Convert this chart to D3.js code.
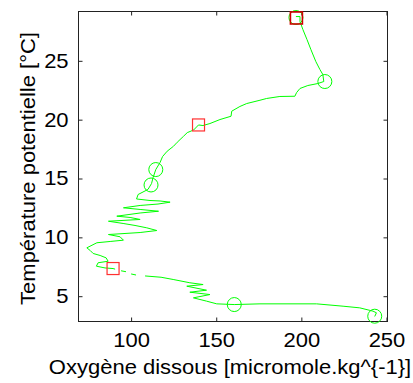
<!DOCTYPE html>
<html>
<head>
<meta charset="utf-8">
<script src="https://cdn.jsdelivr.net/npm/d3@7/dist/d3.min.js"></script>
<style>
  html, body { margin: 0; padding: 0; background: #fff; }
  svg { display: block; }
  text { font-family: "Liberation Sans", Arial, Helvetica, sans-serif; fill: #000; }
</style>
</head>
<body>
<div id="chart"></div>
<script>
// ---- data (oxygen in micromole/kg, potential temperature in °C); null = gap in the record ----
const oxygen = [196.8, 199.2, 199.2, 200.9, 203.3, 205.6, 208.5, 210.9, 212.6, 213.2,
  209.7, 203.8, 199.2, 197.2, 196.2, 187.4, 179.6, 175.7, 167.9, 163.9,
  159.1, 158.7, 152.2, 146.3, 142.2, 139.6, 136.7, 133.0, 130.8, 127.1,
  124.9, 121.2, 118.5, 117.0, 114.5, 112.9, 112.0, 109.9, 106.4, 104.1,
  103.2, 111.1, 117.0, 122.9, 115.8, 105.3, 95.5, 105.3, 116.1, 105.3,
  91.6, 99.4, 105.3, 86.7, 95.3, 102.3, 109.2, 115.1, 105.3, 86.7,
  93.5, 95.5, 87.7, 79.9, 74.0, 76.0, 77.7, 81.8, 85.3, 86.5,
  80.6, 79.6, 84.7, 89.4, 90.6, null, 94.1, 97.0, null, 100.0,
  102.9, null, 108.2, 117.6, 124.7, 134.5,
  142.3, 132.7, 144.3, 134.5, 146.3, 136.6, 144.3, 150.3, 160.6, 175.7,
  208.9, 224.5, 234.3, 242.1, 244.1, 243.1];
const temperature = [28.76, 28.76, 28.34, 27.66, 26.81, 25.96, 24.94, 24.26, 23.84, 23.24,
  23.07, 22.90, 22.65, 22.30, 21.99, 21.97, 21.80, 21.65, 21.37, 21.12,
  20.72, 20.29, 20.01, 19.67, 19.50, 19.55, 19.12, 18.90, 18.59, 18.08,
  17.74, 17.32, 16.87, 16.36, 15.76, 15.08, 14.57, 14.07, 13.81, 13.64,
  13.26, 13.13, 13.09, 12.99, 12.83, 12.71, 12.51, 12.37, 12.22, 12.07,
  11.80, 11.69, 11.52, 11.37, 11.18, 11.01, 10.81, 10.58, 10.41, 10.24,
  10.05, 9.76, 9.65, 9.54, 9.11, 8.88, 8.63, 8.46, 8.26, 7.97,
  7.84, 7.55, 7.40, 7.35, 7.30, null, 7.16, 7.08, null, 6.89,
  6.80, null, 6.72, 6.61, 6.42, 6.14,
  5.99, 5.85, 5.51, 5.34, 5.14, 4.86, 4.58, 4.35, 4.29, 4.35,
  4.35, 4.15, 4.01, 3.73, 3.59, 3.28];

const circleOxygen = [196.8, 213.8, 114.5, 111.7, 160.6, 243.1];
const circleTemperature = [28.68, 23.24, 15.76, 14.45, 4.29, 3.30];
const squareOxygen = [197.1, 139.6, 89.4];
const squareTemperature = [28.64, 19.55, 7.35];

const xTicks = [100, 150, 200, 250];
const yTicks = [5, 10, 15, 20, 25];
const xDomain = [69.1, 250.6];
const yDomain = [2.85, 29.19];
const xLabel = "Oxygène dissous [micromole.kg^{-1}]";
const yLabel = "Température potentielle [°C]";

// ---- layout ----
const W = 413, H = 383;
const mLeft = 78.5, mRight = 387.5, mTop = 11.5, mBottom = 321.5;
const axisColor = "#222";

const svg = d3.select("#chart").append("svg").attr("width", W).attr("height", H);
svg.append("rect").attr("width", W).attr("height", H).attr("fill", "#fff");

const x = d3.scaleLinear().domain(xDomain).range([mLeft, mRight]);
const y = d3.scaleLinear().domain(yDomain).range([mBottom, mTop]);

const fontSize = 20;
const stretch = 1.1;

// axes
const gB = svg.append("g").attr("transform", `translate(0,${mBottom})`)
  .call(d3.axisBottom(x).tickValues(xTicks).tickSizeInner(-4).tickSizeOuter(0).tickPadding(11));
const gT = svg.append("g").attr("transform", `translate(0,${mTop})`)
  .call(d3.axisTop(x).tickValues(xTicks).tickSizeInner(-4).tickSizeOuter(0).tickFormat(""));
const gL = svg.append("g").attr("transform", `translate(${mLeft},0)`)
  .call(d3.axisLeft(y).tickValues(yTicks).tickSizeInner(-4).tickSizeOuter(0).tickPadding(9));
const gR = svg.append("g").attr("transform", `translate(${mRight},0)`)
  .call(d3.axisRight(y).tickValues(yTicks).tickSizeInner(-4).tickSizeOuter(0).tickFormat(""));

[gB, gT, gL, gR].forEach(g => {
  g.select(".domain").remove();
  g.selectAll(".tick line").attr("stroke", axisColor).attr("stroke-width", 1);
  g.selectAll(".tick text").attr("font-size", fontSize)
    .attr("font-family", '"Liberation Sans", Arial, sans-serif').attr("fill", "#000")
    .attr("transform", `scale(${stretch},1)`);
});

// box
svg.append("rect").attr("x", mLeft).attr("y", mTop)
  .attr("width", mRight - mLeft).attr("height", mBottom - mTop)
  .attr("fill", "none").attr("stroke", axisColor).attr("stroke-width", 1);

// profile line
const pts = oxygen.map((o, i) => [o, temperature[i]]);
const line = d3.line()
  .defined(d => d[0] !== null && d[1] !== null)
  .x(d => x(d[0])).y(d => y(d[1]));
svg.append("path").datum(pts).attr("d", line)
  .attr("fill", "none").attr("stroke", "#00ff00").attr("stroke-width", 1);

// circle markers
svg.selectAll("circle.mk").data(circleOxygen).enter().append("circle")
  .attr("class", "mk")
  .attr("cx", d => x(d)).attr("cy", (d, i) => y(circleTemperature[i]))
  .attr("r", 7).attr("fill", "none").attr("stroke", "#00ff00").attr("stroke-width", 1);

// square markers
const sq = 12;
svg.selectAll("rect.sq").data(squareOxygen).enter().append("rect")
  .attr("class", "sq")
  .attr("x", d => x(d) - sq / 2).attr("y", (d, i) => y(squareTemperature[i]) - sq / 2)
  .attr("width", sq).attr("height", sq)
  .attr("fill", "none").attr("stroke", (d, i) => i === 0 ? "#d00000" : "#ff3030")
  .attr("stroke-width", (d, i) => i === 0 ? 1.6 : 1.2);

// labels
svg.append("text").attr("transform", `translate(${(mLeft + mRight) / 2 - 3},374) scale(${stretch},1)`)
  .attr("text-anchor", "middle").attr("font-size", fontSize).text(xLabel);
svg.append("text").attr("transform", `translate(35,${(mTop + mBottom) / 2 + 2}) rotate(-90) scale(${stretch},1)`)
  .attr("text-anchor", "middle").attr("font-size", fontSize).text(yLabel);
</script>
</body>
</html>
